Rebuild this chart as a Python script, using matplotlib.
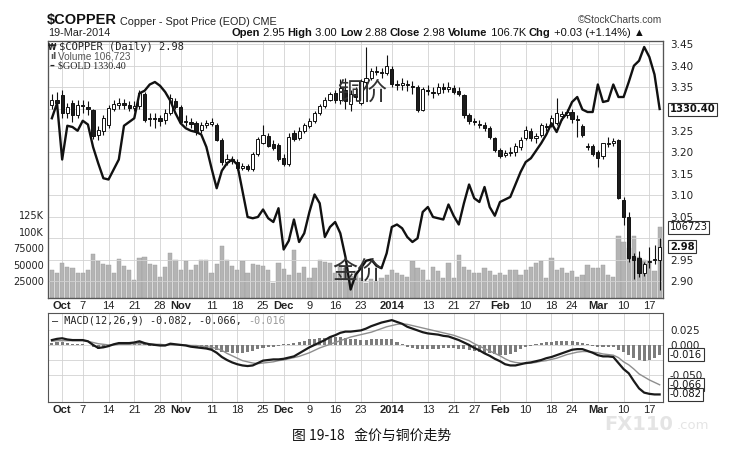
import numpy as np
import pandas as pd
import matplotlib
matplotlib.use("Agg")
import matplotlib.pyplot as plt
import matplotlib.transforms as mtransforms
from matplotlib import font_manager

# trading days on the chart, 27 Sep 2013 .. 19 Mar 2014
holidays = ["2013-11-28", "2013-12-25", "2014-01-01", "2014-01-20", "2014-02-17"]
dates = pd.bdate_range("2013-09-27", "2014-03-19")
dates = dates[~dates.isin(pd.to_datetime(holidays))]

tick_dates = ["2013-10-01", "2013-10-07", "2013-10-14", "2013-10-21", "2013-10-28",
              "2013-11-01", "2013-11-11", "2013-11-18", "2013-11-25", "2013-12-02",
              "2013-12-09", "2013-12-16", "2013-12-23", "2014-01-02", "2014-01-13",
              "2014-01-21", "2014-01-27", "2014-02-03", "2014-02-10", "2014-02-18",
              "2014-02-24", "2014-03-03", "2014-03-10", "2014-03-17"]
tick_labels = ["Oct", "7", "14", "21", "28", "Nov", "11", "18", "25", "Dec", "9", "16",
               "23", "2014", "13", "21", "27", "Feb", "10", "18", "24", "Mar", "10", "17"]
bold_labels = {"Oct", "Nov", "Dec", "2014", "Feb", "Mar"}

# copper daily candles
opens = [3.310, 3.322, 3.333, 3.290, 3.313, 3.286, 3.309, 3.304, 3.298, 3.240,
         3.250, 3.262, 3.300, 3.310, 3.313, 3.310, 3.302, 3.308, 3.336, 3.276,
         3.280, 3.279, 3.275, 3.290, 3.318, 3.305, 3.270, 3.271, 3.267, 3.252,
         3.262, 3.265, 3.262, 3.228, 3.178, 3.185, 3.178, 3.163, 3.167, 3.160,
         3.195, 3.222, 3.238, 3.218, 3.217, 3.186, 3.172, 3.244, 3.232, 3.250,
         3.260, 3.272, 3.290, 3.308, 3.322, 3.338, 3.320, 3.345, 3.312, 3.336,
         3.315, 3.362, 3.372, 3.388, 3.385, 3.384, 3.392, 3.358, 3.356, 3.358,
         3.354, 3.350, 3.298, 3.344, 3.340, 3.338, 3.350, 3.346, 3.348, 3.342,
         3.333, 3.286, 3.272, 3.266, 3.262, 3.255, 3.232, 3.205, 3.194, 3.198,
         3.200, 3.212, 3.232, 3.250, 3.232, 3.240, 3.260, 3.262, 3.268, 3.284,
         3.287, 3.294, 3.276, 3.260, 3.215, 3.213, 3.200, 3.190, 3.218, 3.222,
         3.228, 3.089, 3.050, 2.958, 2.955, 2.918, 2.945, 2.950, 2.950]
highs = [3.335, 3.340, 3.345, 3.315, 3.320, 3.320, 3.320, 3.318, 3.300, 3.260,
         3.285, 3.310, 3.322, 3.325, 3.323, 3.318, 3.318, 3.345, 3.340, 3.290,
         3.290, 3.285, 3.300, 3.335, 3.325, 3.310, 3.285, 3.280, 3.272, 3.270,
         3.275, 3.280, 3.268, 3.232, 3.195, 3.190, 3.185, 3.175, 3.172, 3.200,
         3.236, 3.262, 3.245, 3.228, 3.222, 3.195, 3.245, 3.252, 3.258, 3.268,
         3.278, 3.295, 3.312, 3.328, 3.340, 3.345, 3.370, 3.372, 3.345, 3.350,
         3.370, 3.445, 3.395, 3.400, 3.395, 3.425, 3.400, 3.368, 3.372, 3.368,
         3.365, 3.355, 3.352, 3.356, 3.352, 3.360, 3.360, 3.362, 3.356, 3.350,
         3.336, 3.290, 3.280, 3.275, 3.270, 3.260, 3.236, 3.210, 3.205, 3.212,
         3.220, 3.235, 3.260, 3.255, 3.245, 3.268, 3.268, 3.285, 3.325, 3.295,
         3.300, 3.300, 3.285, 3.265, 3.222, 3.218, 3.205, 3.222, 3.235, 3.232,
         3.230, 3.095, 3.060, 2.965, 2.970, 2.945, 2.980, 2.985, 3.000]
lows = [3.300, 3.300, 3.280, 3.280, 3.270, 3.280, 3.290, 3.285, 3.230, 3.228,
        3.240, 3.255, 3.295, 3.300, 3.300, 3.295, 3.295, 3.300, 3.270, 3.260,
        3.255, 3.260, 3.265, 3.285, 3.300, 3.265, 3.260, 3.255, 3.240, 3.245,
        3.255, 3.260, 3.225, 3.170, 3.170, 3.172, 3.158, 3.158, 3.155, 3.156,
        3.190, 3.218, 3.212, 3.205, 3.180, 3.168, 3.168, 3.225, 3.228, 3.245,
        3.255, 3.268, 3.285, 3.302, 3.318, 3.315, 3.312, 3.300, 3.295, 3.318,
        3.310, 3.355, 3.368, 3.378, 3.372, 3.378, 3.350, 3.345, 3.345, 3.342,
        3.335, 3.292, 3.295, 3.332, 3.325, 3.332, 3.338, 3.340, 3.335, 3.330,
        3.280, 3.265, 3.262, 3.255, 3.248, 3.230, 3.200, 3.186, 3.188, 3.190,
        3.190, 3.205, 3.228, 3.225, 3.220, 3.235, 3.250, 3.258, 3.262, 3.275,
        3.280, 3.268, 3.236, 3.235, 3.205, 3.190, 3.165, 3.185, 3.212, 3.215,
        3.090, 3.030, 2.945, 2.905, 2.910, 2.912, 2.930, 2.940, 2.880]
closes = [3.322, 3.315, 3.290, 3.305, 3.286, 3.309, 3.306, 3.300, 3.238, 3.252,
          3.278, 3.302, 3.312, 3.315, 3.310, 3.302, 3.308, 3.337, 3.275, 3.280,
          3.277, 3.272, 3.290, 3.325, 3.305, 3.270, 3.272, 3.266, 3.248, 3.262,
          3.268, 3.270, 3.228, 3.176, 3.185, 3.180, 3.162, 3.167, 3.160, 3.196,
          3.230, 3.240, 3.215, 3.210, 3.185, 3.172, 3.236, 3.230, 3.250, 3.262,
          3.272, 3.290, 3.308, 3.322, 3.335, 3.320, 3.348, 3.318, 3.335, 3.328,
          3.365, 3.372, 3.388, 3.386, 3.384, 3.400, 3.358, 3.356, 3.360, 3.355,
          3.350, 3.298, 3.346, 3.342, 3.338, 3.352, 3.346, 3.350, 3.340, 3.334,
          3.286, 3.272, 3.270, 3.262, 3.255, 3.236, 3.205, 3.192, 3.198, 3.200,
          3.215, 3.228, 3.252, 3.232, 3.238, 3.262, 3.258, 3.278, 3.290, 3.288,
          3.292, 3.276, 3.274, 3.240, 3.212, 3.195, 3.186, 3.220, 3.220, 3.226,
          3.093, 3.050, 2.955, 2.950, 2.918, 2.940, 2.948, 2.952, 2.980]

volume = [42000, 37000, 52000, 47000, 45000, 37000, 37000, 42000, 66000, 55000,
          51000, 50000, 37000, 59000, 48000, 42000, 27000, 60000, 62000, 51000,
          50000, 32000, 46000, 68000, 57000, 42000, 55000, 42000, 50000, 57000,
          57000, 37000, 51000, 78000, 57000, 48000, 42000, 56000, 37000, 51000,
          50000, 48000, 42000, 23000, 52000, 43000, 35000, 72000, 37000, 46000,
          30000, 45000, 57000, 54000, 52000, 38000, 50000, 45000, 33000, 40000,
          30000, 22000, 28000, 25000, 30000, 35000, 42000, 37000, 35000, 32000,
          55000, 45000, 42000, 27000, 47000, 40000, 30000, 52000, 30000, 65000,
          47000, 42000, 37000, 37000, 45000, 40000, 34000, 37000, 35000, 42000,
          42000, 35000, 42000, 47000, 52000, 55000, 30000, 60000, 42000, 45000,
          37000, 40000, 32000, 34000, 50000, 45000, 45000, 50000, 35000, 32000,
          93000, 85000, 75000, 93000, 62000, 57000, 55000, 40000, 106723]

gold = [1323, 1335, 1290, 1317, 1316, 1313, 1321, 1318, 1300, 1287,
        1275, 1274, 1282, 1290, 1317, 1320, 1323, 1343, 1345, 1350,
        1352, 1349, 1344, 1337, 1327, 1319, 1315, 1313, 1312, 1310,
        1300, 1283, 1267, 1281, 1287, 1290, 1286, 1265, 1244, 1243,
        1244, 1250, 1243, 1240, 1251, 1218, 1225, 1242, 1224, 1231,
        1248, 1262, 1255, 1228, 1236, 1240, 1231, 1212, 1186, 1198,
        1203, 1209, 1210, 1205, 1203, 1215, 1236, 1238, 1235, 1228,
        1224, 1227, 1248, 1252, 1244, 1243, 1242, 1254, 1245, 1238,
        1255, 1270, 1259, 1256, 1268, 1252, 1245, 1256, 1258, 1260,
        1270, 1280, 1288, 1291, 1297, 1303, 1310, 1319, 1312, 1322,
        1327, 1336, 1340, 1330, 1328, 1328, 1350, 1336, 1337, 1350,
        1340, 1340, 1352, 1365, 1369, 1380, 1372, 1358, 1330.4]

macd = [0.008, 0.010, 0.011, 0.009, 0.008, 0.008, 0.008, 0.006, 0.000, -0.005,
        -0.004, -0.002, 0.001, 0.003, 0.003, 0.003, 0.004, 0.006, 0.003, 0.001,
        0.000, -0.001, -0.001, 0.002, 0.001, 0.000, -0.001, -0.003, -0.004, -0.005,
        -0.006, -0.008, -0.013, -0.020, -0.025, -0.029, -0.032, -0.034, -0.035, -0.034,
        -0.030, -0.026, -0.025, -0.024, -0.024, -0.023, -0.021, -0.019, -0.014, -0.009,
        -0.004, 0.000, 0.004, 0.008, 0.013, 0.016, 0.020, 0.022, 0.022, 0.023,
        0.024, 0.027, 0.031, 0.034, 0.037, 0.039, 0.041, 0.038, 0.035, 0.030,
        0.027, 0.024, 0.021, 0.019, 0.018, 0.017, 0.015, 0.014, 0.011, 0.008,
        0.004, 0.000, -0.005, -0.009, -0.014, -0.018, -0.023, -0.027, -0.032, -0.034,
        -0.034, -0.032, -0.030, -0.029, -0.027, -0.025, -0.022, -0.020, -0.017, -0.014,
        -0.011, -0.008, -0.007, -0.007, -0.010, -0.013, -0.017, -0.019, -0.019, -0.020,
        -0.030, -0.040, -0.047, -0.060, -0.072, -0.079, -0.081, -0.082, -0.082]
signal = [0.006, 0.007, 0.007, 0.007, 0.007, 0.007, 0.007, 0.006, 0.004, 0.002,
          0.001, 0.000, 0.000, 0.001, 0.001, 0.001, 0.002, 0.002, 0.002, 0.002,
          0.001, 0.001, 0.000, 0.000, 0.000, 0.000, 0.000, -0.001, -0.001, -0.002,
          -0.003, -0.004, -0.006, -0.009, -0.014, -0.018, -0.022, -0.026, -0.028, -0.030,
          -0.031, -0.030, -0.029, -0.028, -0.026, -0.025, -0.023, -0.021, -0.019, -0.016,
          -0.013, -0.009, -0.005, -0.002, 0.001, 0.004, 0.007, 0.010, 0.013, 0.015,
          0.017, 0.019, 0.021, 0.024, 0.027, 0.030, 0.032, 0.034, 0.035, 0.034,
          0.032, 0.030, 0.028, 0.026, 0.024, 0.022, 0.020, 0.018, 0.016, 0.013,
          0.010, 0.007, 0.002, -0.002, -0.006, -0.010, -0.014, -0.018, -0.023, -0.027,
          -0.029, -0.030, -0.031, -0.030, -0.029, -0.027, -0.026, -0.024, -0.022, -0.019,
          -0.016, -0.014, -0.012, -0.011, -0.011, -0.012, -0.013, -0.015, -0.016, -0.017,
          -0.021, -0.028, -0.033, -0.040, -0.048, -0.053, -0.058, -0.062, -0.066]
hist = [0.003, 0.004, 0.005, 0.003, 0.002, 0.002, 0.001, 0.000, -0.003, -0.006,
        -0.005, -0.002, 0.001, 0.002, 0.002, 0.002, 0.002, 0.004, 0.001, -0.001,
        -0.001, -0.002, -0.001, 0.002, 0.001, -0.001, -0.002, -0.003, -0.004, -0.004,
        -0.005, -0.006, -0.008, -0.011, -0.012, -0.013, -0.013, -0.013, -0.012, -0.010,
        -0.007, -0.005, -0.004, -0.003, -0.002, 0.001, 0.002, 0.003, 0.005, 0.007,
        0.009, 0.010, 0.011, 0.012, 0.013, 0.013, 0.013, 0.012, 0.010, 0.009,
        0.008, 0.008, 0.009, 0.010, 0.010, 0.010, 0.009, 0.005, 0.001, -0.003,
        -0.005, -0.006, -0.007, -0.007, -0.006, -0.006, -0.005, -0.005, -0.005, -0.006,
        -0.007, -0.008, -0.010, -0.012, -0.013, -0.014, -0.015, -0.016, -0.017, -0.015,
        -0.011, -0.007, -0.004, -0.002, 0.001, 0.003, 0.004, 0.005, 0.006, 0.006,
        0.006, 0.006, 0.005, 0.003, 0.001, -0.001, -0.003, -0.004, -0.004, -0.004,
        -0.008, -0.012, -0.016, -0.021, -0.025, -0.027, -0.025, -0.021, -0.016]

names = {f.name for f in font_manager.fontManager.ttflist}
NARROW = "Liberation Sans Narrow" if "Liberation Sans Narrow" in names else "Liberation Sans"
CJK = ["Noto Sans CJK SC", "DejaVu Sans"]
INK = "#222222"
GRID = "#d2d2d2"

W, H = 742, 454
fig = plt.figure(figsize=(W / 100, H / 100), dpi=100)


def fx(px):
    return px / W


def fy(py):
    return 1 - py / H


x = np.arange(len(dates))
tick_pos = [int(np.searchsorted(dates, pd.Timestamp(d))) for d in tick_dates]
xlim = (-0.75, len(dates) - 0.35)

# ---- main panel: volume (base), copper price, gold overlay
ax_v = fig.add_axes([fx(48), fy(298), fx(663 - 48), (298 - 41) / H])
ax_p = ax_v.twinx()
ax_g = ax_v.twinx()

ax_v.bar(x, volume, width=0.82, color="#b4b4b4", edgecolor="#9c9c9c", lw=0.3)
ax_v.set_ylim(0, 387000)
ax_v.set_yticks([25000, 50000, 75000, 100000, 125000])
ax_v.set_yticklabels(["25000", "50000", "75000", "100K", "125K"])
ax_v.tick_params(axis="y", length=0, pad=3, labelsize=7, labelcolor=INK)
ax_v.set_xlim(*xlim)
ax_v.set_xticks(tick_pos)
ax_v.set_xticklabels(tick_labels)
ax_v.tick_params(axis="x", length=0, pad=2, labelsize=8, labelcolor=INK)
for t in ax_v.get_xticklabels():
    t.set_family(NARROW)
    if t.get_text() in bold_labels:
        t.set_fontweight("bold")
ax_v.xaxis.grid(True, color=GRID, lw=0.6)
ax_v.set_axisbelow(True)

o, hi, lo, c = map(np.array, (opens, highs, lows, closes))
up = c >= o
body = np.maximum(np.abs(c - o), 0.0015)
ax_p.yaxis.grid(True, color=GRID, lw=0.6, zorder=0)
ax_p.vlines(x, lo, hi, color="#111111", lw=0.8, zorder=3)
ax_p.bar(x[up], body[up], bottom=o[up], width=0.62, color="white",
         edgecolor="#111111", lw=0.7, zorder=4)
ax_p.bar(x[~up], body[~up], bottom=c[~up], width=0.62, color="#1c1c1c",
         edgecolor="#111111", lw=0.7, zorder=4)
ax_p.set_ylim(2.861, 3.458)
price_ticks = np.arange(2.90, 3.451, 0.05)
ax_p.set_yticks(price_ticks)
# 3.30 and 3.00 sit under the value boxes, as in the original
hidden = (3.30, 3.00)
ax_p.set_yticklabels(["" if min(abs(v - h) for h in hidden) < 1e-6 else f"{v:.2f}"
                      for v in price_ticks])
ax_p.tick_params(axis="y", length=0, pad=5, labelsize=7.5, labelcolor=INK)

ax_g.plot(x, gold, color="#111111", lw=1.7, zorder=5)
ax_g.set_ylim(1179.2, 1384.8)
ax_g.set_yticks([])

for ax in (ax_v, ax_p, ax_g):
    for s in ax.spines.values():
        s.set_color("#555555")
        s.set_linewidth(0.8)

box = dict(boxstyle="square,pad=0.15", fc="white", ec="#333333", lw=0.8)
for axis, val, txt, wt in ((ax_g, gold[-1], "1330.40", "bold"),
                           (ax_v, volume[-1], "106723", "normal"),
                           (ax_p, closes[-1], "2.98", "bold")):
    tr = mtransforms.blended_transform_factory(ax_g.transAxes, axis.transData)
    ax_g.annotate(txt, xy=(1, val), xycoords=tr, xytext=(5, 0), textcoords="offset points",
                  va="center", ha="left", fontsize=7.2, fontweight=wt, color="#111111",
                  bbox=box, annotation_clip=False, zorder=10)

# legend lines in the main panel
fig.text(fx(48), fy(47.5), "₩", fontsize=5.5, color=INK, va="center", weight="bold")
fig.text(fx(59), fy(47.5), "$COPPER (Daily) 2.98", fontsize=7.5, family="DejaVu Sans Mono",
         color=INK, va="center")
fig.text(fx(50), fy(56.5), "ıl", fontsize=6.5, color="#555555", va="center", weight="bold")
fig.text(fx(58), fy(56.5), "Volume 106,723", fontsize=7.2, family=NARROW, color="#555555",
         va="center")
fig.text(fx(49), fy(66), "–", fontsize=7, color=INK, va="center", weight="bold")
fig.text(fx(58), fy(66), "$GOLD 1330.40", fontsize=7.2, family="Liberation Serif", color=INK,
         va="center")

# hand-written style labels on the chart
fig.text(fx(362), fy(93), "铜价", fontsize=18, family=CJK, color="#333333",
         ha="center", va="center", weight="light")
fig.text(fx(357), fy(272), "金价", fontsize=18, family=CJK, color="#333333",
         ha="center", va="center", weight="light")

# ---- MACD panel
ax_m = fig.add_axes([fx(48), fy(402), fx(663 - 48), (402 - 313) / H])
ax_m.bar(x, hist, width=0.6, color="#7c7c7c", lw=0, zorder=2)
ax_m.plot(x, signal, color="#8e8e8e", lw=1.0, zorder=3)
ax_m.plot(x, macd, color="#1a1a1a", lw=1.6, zorder=4)
ax_m.set_xlim(*xlim)
ax_m.set_ylim(-0.0945, 0.0528)
ax_m.yaxis.tick_right()
ax_m.set_yticks([0.025, 0.0, -0.025, -0.05])
ax_m.set_yticklabels(["0.025", "0.000", "", "-0.050"])
ax_m.tick_params(axis="y", length=0, pad=5, labelsize=7.5, labelcolor=INK)
ax_m.set_xticks(tick_pos)
ax_m.set_xticklabels(tick_labels)
ax_m.tick_params(axis="x", length=0, pad=2, labelsize=8, labelcolor=INK)
for t in ax_m.get_xticklabels():
    t.set_family(NARROW)
    if t.get_text() in bold_labels:
        t.set_fontweight("bold")
ax_m.grid(True, color=GRID, lw=0.6, zorder=0)
ax_m.set_axisbelow(True)
for s in ax_m.spines.values():
    s.set_color("#555555")
    s.set_linewidth(0.8)

for val, txt in ((hist[-1], "-0.016"), (signal[-1], "-0.066"), (macd[-1], "-0.082")):
    tr = mtransforms.blended_transform_factory(ax_m.transAxes, ax_m.transData)
    ax_m.annotate(txt, xy=(1, val), xycoords=tr, xytext=(5, 0), textcoords="offset points",
                  va="center", ha="left", fontsize=7.2, color="#111111", bbox=box,
                  annotation_clip=False, zorder=10)

m1 = fig.text(fx(52), fy(320.5), "— MACD(12,26,9) -0.082, -0.066, ", fontsize=7.3,
              family="DejaVu Sans Mono", color=INK, va="center")
ax_m.annotate("-0.016", xy=(1, 0), xycoords=m1, fontsize=7.3, family="DejaVu Sans Mono",
              color="#9a9a9a", va="bottom", annotation_clip=False)

# ---- header
t0 = fig.text(fx(47), fy(20), "$COPPER", fontsize=10.5, weight="bold", family=NARROW,
              color="#111111", va="center")
ax_v.annotate(" Copper - Spot Price (EOD) CME", xy=(1, 0), xycoords=t0, fontsize=7.8,
              family=NARROW, color=INK, va="bottom", annotation_clip=False)
fig.text(fx(662), fy(20), "©StockCharts.com", fontsize=7.3, family=NARROW,
         color="#444444", va="center", ha="right")
fig.text(fx(48), fy(33.5), "19-Mar-2014", fontsize=7.8, family=NARROW, color=INK, va="center")

parts = [("Open", "bold"), (" 2.95 ", "normal"), ("High", "bold"), (" 3.00 ", "normal"),
         ("Low", "bold"), (" 2.88 ", "normal"), ("Close", "bold"), (" 2.98 ", "normal"),
         ("Volume", "bold"), (" 106.7K ", "normal"), ("Chg", "bold"),
         (" +0.03 (+1.14%) ▲", "normal")]
prev = fig.text(fx(231), fy(33.5), parts[0][0], fontsize=8, weight=parts[0][1],
                family=NARROW, color="#111111", va="center")
for txt, wt in parts[1:]:
    prev = ax_v.annotate(txt, xy=(1, 0), xycoords=prev, fontsize=8, weight=wt,
                         family=[NARROW, "DejaVu Sans"], color="#111111", va="bottom",
                         annotation_clip=False)

# watermark and caption
wm = fig.text(fx(604), fy(424), "FX110", fontsize=14, weight="bold", color="#dedede",
              ha="left", va="center", alpha=0.8, zorder=20)
ax_m.annotate(".com", xy=(1.05, 0.1), xycoords=wm, fontsize=9.5, color="#dedede",
              va="bottom", alpha=0.8, annotation_clip=False, zorder=20)
fig.text(fx(372), fy(436), "图 19-18   金价与铜价走势", fontsize=10, family=CJK,
         color="#111111", ha="center", va="center")

fig.savefig("out.png", dpi=100, facecolor="white")
